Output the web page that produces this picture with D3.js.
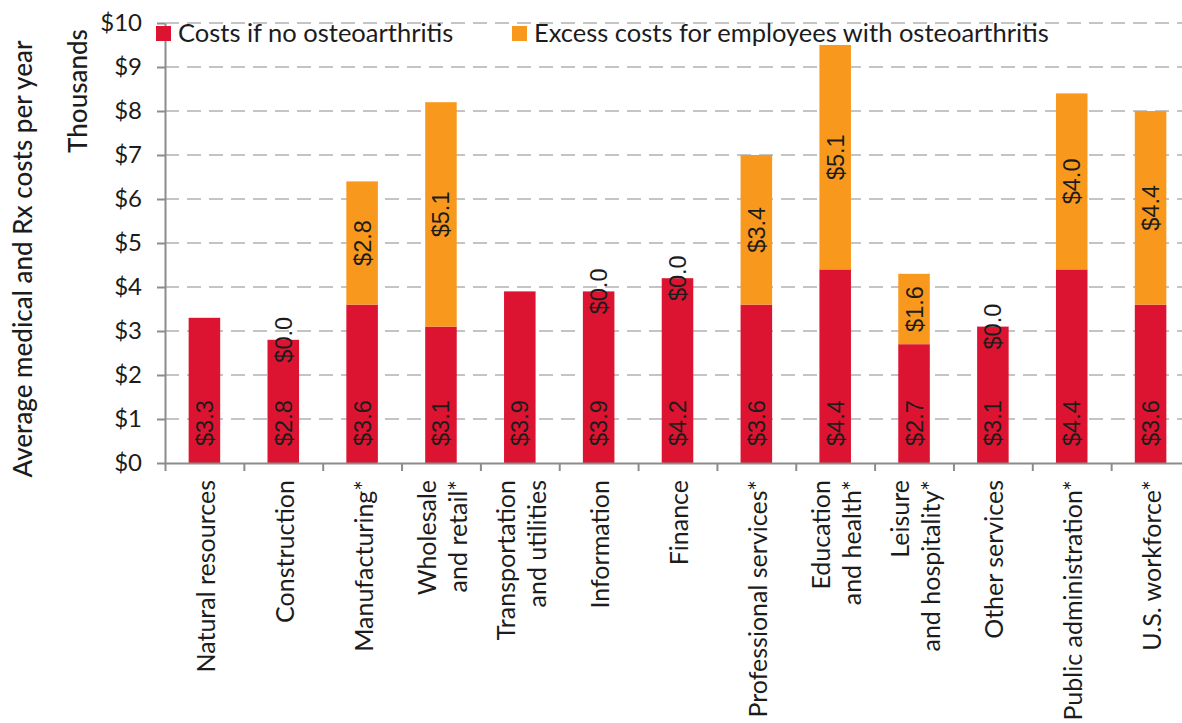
<!DOCTYPE html>
<html>
<head>
<meta charset="utf-8">
<script src="https://cdn.jsdelivr.net/npm/d3@7"></script>
<style>
  html, body { margin: 0; padding: 0; background: #fff; overflow: hidden; }
  svg { display: block; }
  text { font-family: Lato, "Open Sans", sans-serif; fill: #1c1c1c; }
  .val { font-family: "Liberation Sans", Arial, sans-serif; }
</style>
</head>
<body>
<svg id="chart" width="1182" height="723"></svg>
<script>
// Industry categories (line breaks mark wrapped axis labels)
const categories = [
  ["Natural resources"],
  ["Construction"],
  ["Manufacturing*"],
  ["Wholesale", "and retail*"],
  ["Transportation", "and utilities"],
  ["Information"],
  ["Finance"],
  ["Professional services*"],
  ["Education", "and health*"],
  ["Leisure", "and hospitality*"],
  ["Other services"],
  ["Public administration*"],
  ["U.S. workforce*"]
];
// Costs in thousands of dollars
const baseCosts   = [3.3, 2.8, 3.6, 3.1, 3.9, 3.9, 4.2, 3.6, 4.4, 2.7, 3.1, 4.4, 3.6];
const excessCosts = [null, 0.0, 2.8, 5.1, null, 0.0, 0.0, 3.4, 5.1, 1.6, 0.0, 4.0, 4.4];
const yTicks = [0, 1, 2, 3, 4, 5, 6, 7, 8, 9, 10];
const seriesNames = ["Costs if no osteoarthritis", "Excess costs for employees with osteoarthritis"];
const colors = ["#dc1431", "#f8991d"];

const svg = d3.select("#chart");
const plotLeft = 165, plotRight = 1190, plotTop = 23, plotBottom = 463;

const y = d3.scaleLinear().domain([0, 10]).range([plotBottom, plotTop]);
const slot = d3.scaleLinear().domain([0, categories.length]).range([plotLeft, plotRight]);
const step = slot(1) - slot(0);
const barW = step * 0.4;
const fmt = v => "$" + d3.format(".1f")(v);

// Dashed gridlines
svg.append("g")
  .selectAll("line")
  .data(yTicks.filter(d => d > 0))
  .join("line")
  .attr("x1", plotLeft).attr("x2", 1182)
  .attr("y1", d => y(d)).attr("y2", d => y(d))
  .attr("stroke", "#c4c4c4")
  .attr("stroke-width", 2)
  .attr("stroke-dasharray", "14 8");

// Stacked bars
const rows = categories.map((c, i) => ({ i, base: baseCosts[i], excess: excessCosts[i] }));
const bars = svg.append("g");
bars.selectAll("rect.base")
  .data(rows)
  .join("rect")
  .attr("class", "base")
  .attr("x", d => slot(d.i + 0.5) - barW / 2)
  .attr("width", barW)
  .attr("y", d => y(d.base))
  .attr("height", d => y(0) - y(d.base))
  .attr("fill", colors[0]);
bars.selectAll("rect.excess")
  .data(rows.filter(d => d.excess))
  .join("rect")
  .attr("class", "excess")
  .attr("x", d => slot(d.i + 0.5) - barW / 2)
  .attr("width", barW)
  .attr("y", d => y(d.base + d.excess))
  .attr("height", d => y(d.base) - y(d.base + d.excess))
  .attr("fill", colors[1]);

// Axes
const yAxis = svg.append("g")
  .attr("transform", `translate(${plotLeft},0)`)
  .call(d3.axisLeft(y).tickValues(yTicks).tickFormat(d => "$" + d).tickSize(8).tickPadding(15).tickSizeOuter(0));
yAxis.select(".domain").attr("stroke", "#8c8c8c").attr("stroke-width", 2);
yAxis.selectAll(".tick line").attr("stroke", "#8c8c8c").attr("stroke-width", 2);
yAxis.selectAll(".tick text")
  .style("font-family", "Lato, sans-serif")
  .style("font-size", "24px")
  .attr("fill", "#1c1c1c");

const xAxis = svg.append("g")
  .attr("transform", `translate(0,${plotBottom})`)
  .call(d3.axisBottom(slot).tickValues(d3.range(categories.length + 1)).tickFormat("").tickSize(8).tickSizeOuter(0));
xAxis.select(".domain").attr("stroke", "#8c8c8c").attr("stroke-width", 2);
xAxis.selectAll(".tick line").attr("stroke", "#8c8c8c").attr("stroke-width", 2);

// Category labels, rotated, wrapped lines centred on the bar
const lineGap = 31.6;
categories.forEach((lines, i) => {
  const cx = slot(i + 0.5);
  lines.forEach((ln, j) => {
    const bx = cx + 10.5 + (j - (lines.length - 1) / 2) * lineGap;
    svg.append("text")
      .attr("transform", `translate(${bx},480) rotate(-90)`)
      .attr("text-anchor", "end")
      .style("font-size", "25px")
      .text(ln);
  });
});

// Value labels
const labels = svg.append("g").attr("class", "val");
labels.selectAll("text.b")
  .data(rows)
  .join("text")
  .attr("class", "val b")
  .attr("transform", d => `translate(${slot(d.i + 0.5)},${y(0) - 17}) rotate(-90)`)
  .attr("text-anchor", "start")
  .attr("dy", "0.36em")
  .style("font-size", "23.5px")
  .text(d => fmt(d.base));
labels.selectAll("text.e")
  .data(rows.filter(d => d.excess !== null))
  .join("text")
  .attr("class", "val e")
  .attr("transform", d => `translate(${slot(d.i + 0.5)},${y(d.base + d.excess / 2)}) rotate(-90)`)
  .attr("text-anchor", "middle")
  .attr("dy", "0.36em")
  .style("font-size", "23.5px")
  .text(d => fmt(d.excess));

// Axis titles
svg.append("text")
  .attr("transform", "translate(32,259) rotate(-90)")
  .attr("text-anchor", "middle")
  .style("font-size", "26px")
  .style("font-weight", 500)
  .text("Average medical and Rx costs per year");
svg.append("text")
  .attr("transform", "translate(87,91) rotate(-90)")
  .attr("text-anchor", "middle")
  .style("font-size", "26px")
  .style("font-weight", 500)
  .text("Thousands");

// Legend
const legend = svg.append("g");
const legendX = [156, 512];
seriesNames.forEach((name, k) => {
  legend.append("rect")
    .attr("x", legendX[k]).attr("y", 26)
    .attr("width", 15).attr("height", 15)
    .attr("fill", colors[k]);
  legend.append("text")
    .attr("x", legendX[k] + 22).attr("y", 42)
    .style("font-size", "25.5px")
    .text(name);
});
</script>
</body>
</html>
